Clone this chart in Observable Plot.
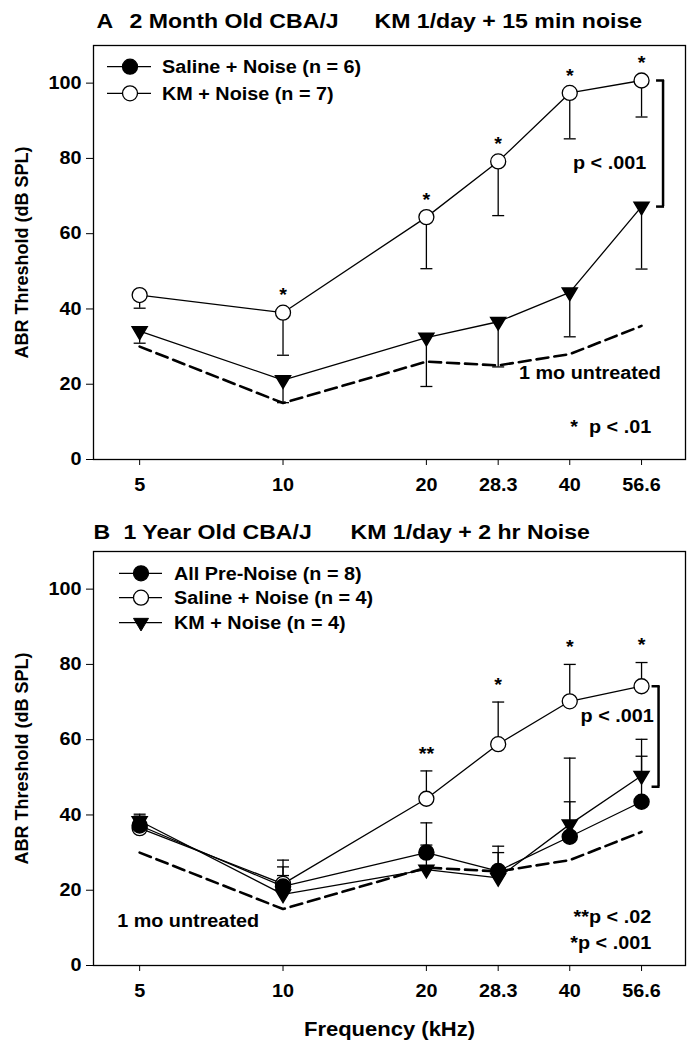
<!DOCTYPE html>
<html><head><meta charset="utf-8">
<script src="https://cdn.jsdelivr.net/npm/d3@7"></script>
<script src="https://cdn.jsdelivr.net/npm/@observablehq/plot@0.6"></script>
<style>
body{margin:0;background:#fff;}
#chart{width:698px;}
#chart svg{display:block;}
</style></head><body><div id="chart"></div>
<script>
// ---- data ----
const freqs = [5, 10, 20, 28.3, 40, 56.6];
const freqLabels = ["5", "10", "20", "28.3", "40", "56.6"];
const yTicks = [0, 20, 40, 60, 80, 100];
const untreated = [30, 15, 26, 25, 28, 35.5];

// Panel A: 2 month old
const aSalineMean = [34.1, 21.1, 32.4, 36.6, 44.4, 67.2];
const aSalineSD   = [3.2, 6, 13, 12, 11.8, 16.6];
const aKMMean     = [43.7, 39.0, 64.4, 79.2, 97.4, 100.7];
const aKMSD       = [3.5, 11.3, 13.7, 14.4, 12.2, 9.7];
const aStars      = ["", "*", "*", "*", "*", "*"];

// Panel B: 1 year old
const bPreMean    = [37.2, 21.0, 30.0, 25.1, 34.2, 43.5];
const bPreSD      = [2.5, 5.2, 7.9, 6.6, 9.3, 12.1];
const bSalineMean = [36.5, 21.7, 44.3, 58.8, 70.2, 74.2];
const bSalineSD   = [2.0, 6.3, 7.4, 11.2, 9.8, 6.3];
const bKMMean     = [38.4, 18.9, 25.5, 23.3, 37.5, 50.4];
const bKMSD       = [1.8, 5.0, 6.5, 6.7, 17.6, 9.7];
const bStars      = ["", "", "**", "*", "*", "*"];

// annotations (data-space anchors)
const aNotes = [
  {text: "p < .001", f: 48.5, v: 78.8, anchor: "middle"},
  {text: "1 mo untreated", f: 44.1, v: 23.0, anchor: "middle"},
  {text: "*  p < .01", f: 59.3, v: 8.7, anchor: "end"}
];
const bNotes = [
  {text: "p < .001", f: 50.3, v: 66.2, anchor: "middle"},
  {text: "1 mo untreated", f: 6.32, v: 11.8, anchor: "middle"},
  {text: "**p < .02", f: 59.3, v: 12.9, anchor: "end"},
  {text: "*p < .001", f: 59.3, v: 6.0, anchor: "end"}
];
const aLegend = [
  {label: "Saline + Noise (n = 6)", kind: "filled"},
  {label: "KM + Noise (n = 7)", kind: "open"}
];
const bLegend = [
  {label: "All Pre-Noise (n = 8)", kind: "filled"},
  {label: "Saline + Noise (n = 4)", kind: "open"},
  {label: "KM + Noise (n = 4)", kind: "tri"}
];

// ---- helpers ----
const FONT = "'Liberation Sans', Arial, Helvetica, sans-serif";
const STRETCH = 1.1;
const rows = (means, sds, dir) => freqs.map((f, i) => ({f, m: means[i], e: means[i] + dir * sds[i], i}));
const unt = freqs.map((f, i) => ({f, v: untreated[i]}));
const capSym = {draw(ctx, size) { const r = Math.sqrt(size / Math.PI); ctx.moveTo(-r, 0); ctx.lineTo(r, 0); }};
const tickLeftSym = {draw(ctx, size) { const r = Math.sqrt(size / Math.PI); ctx.moveTo(-r, 0); ctx.lineTo(0, 0); }};
const triDownSym = {draw(ctx, size) { const r = Math.sqrt(size / Math.PI); ctx.moveTo(-r, -0.58 * r); ctx.lineTo(r, -0.58 * r); ctx.lineTo(0, 1.1 * r); ctx.closePath(); }};

function errMarks(data) {
  return [
    Plot.ruleX(data, {x: "f", y1: "m", y2: "e", stroke: "black", strokeWidth: 1.3}),
    Plot.dot(data, {x: "f", y: "e", symbol: capSym, r: 6, stroke: "black", fill: "none", strokeWidth: 1.3})
  ];
}
function baseMarks() {
  return [
    Plot.frame({stroke: "black", strokeWidth: 1.3}),
    Plot.axisY({ticks: yTicks, tickSize: 7, tickPadding: 5, fontSize: 18, fontWeight: "bold", label: null, tickFormat: d => String(d)}),
    Plot.axisX({ticks: freqs, tickSize: 6, tickPadding: 13, fontSize: 18, fontWeight: "bold", label: null, tickFormat: d => freqLabels[freqs.indexOf(d)]}),
    Plot.text(["ABR Threshold (dB SPL)"], {text: d => d, frameAnchor: "left", textAnchor: "middle", dx: -71, rotate: -90, fontSize: 18, fontWeight: "bold"}),
    Plot.line(unt, {x: "f", y: "v", stroke: "black", strokeWidth: 2.6, strokeDasharray: "12,6"})
  ];
}
function noteMarks(notes) {
  return notes.map(n => Plot.text([n], {x: "f", y: "v", text: "text", textAnchor: n.anchor, fontSize: 18, fontWeight: "bold"}));
}
function titleMarks(parts, dy) {
  return parts.map(p => Plot.text([p.t], {text: d => d, frameAnchor: "top-left", dx: p.dx, dy, textAnchor: "start", lineAnchor: "middle", fontSize: 21, fontWeight: "bold"}));
}
function drawLegend(svg, items, lx0, lx1, mx, tx, ys) {
  const g = d3.select(svg).append("g").attr("font-family", FONT).attr("font-weight", "bold").attr("font-size", 18).attr("text-anchor", "start");
  items.forEach((it, k) => {
    const y = ys[k];
    g.append("line").attr("x1", lx0).attr("x2", lx1).attr("y1", y).attr("y2", y).attr("stroke", "black").attr("stroke-width", 1.3);
    if (it.kind === "tri") {
      g.append("path").attr("transform", `translate(${mx},${y})`).attr("d", d3.symbol(triDownSym, Math.PI * 7.5 * 7.5)()).attr("fill", "black").attr("stroke", "black");
    } else {
      g.append("circle").attr("cx", mx).attr("cy", y).attr("r", 7.5).attr("fill", it.kind === "filled" ? "black" : "white").attr("stroke", "black").attr("stroke-width", 1.3);
    }
    g.append("text").attr("x", tx).attr("y", y).attr("dy", "0.35em").text(it.label);
  });
}
const common = {
  width: 698, marginLeft: 93, marginRight: 13,
  x: {type: "log", domain: [4, 70]},
  y: {domain: [0, 110]},
  style: {fontFamily: FONT, fontWeight: "bold", color: "black", background: "white", overflow: "visible"}
};

// ---- Panel A ----
const A_sal = rows(aSalineMean, aSalineSD, -1);
const A_km = rows(aKMMean, aKMSD, -1);
const plotA = Plot.plot({
  ...common, height: 505, marginTop: 45, marginBottom: 46,
  marks: [
    ...baseMarks(),
    ...titleMarks([{t: "A", dx: 3}, {t: "2 Month Old CBA/J", dx: 36}, {t: "KM 1/day + 15 min noise", dx: 281}], -24),
    Plot.line(A_km, {x: "f", y: "m", stroke: "black", strokeWidth: 1.3}),
    Plot.line(A_sal, {x: "f", y: "m", stroke: "black", strokeWidth: 1.3}),
    ...errMarks(A_km),
    ...errMarks(A_sal),
    Plot.dot(A_km, {x: "f", y: "m", r: 7.5, fill: "white", stroke: "black", strokeWidth: 1.3}),
    Plot.dot(A_sal, {x: "f", y: "m", symbol: triDownSym, r: 7.5, fill: "black", stroke: "black"}),
    Plot.text(A_km, {x: "f", y: "m", text: d => aStars[d.i], dy: -17, fontSize: 18, fontWeight: "bold"}),
    Plot.ruleX([A_km[5]], {x: "f", y1: "m", y2: () => A_sal[5].m, dx: 21.5, stroke: "black", strokeWidth: 2.5}),
    Plot.dot([A_km[5], A_sal[5]], {x: "f", y: "m", symbol: tickLeftSym, r: 8, dx: 22.5, stroke: "black", fill: "none", strokeWidth: 2.5}),
    ...noteMarks(aNotes)
  ]
});
drawLegend(plotA, aLegend, 107, 151, 130, 162, [66.7, 93.3]);

// ---- Panel B ----
const B_pre = rows(bPreMean, bPreSD, 1);
const B_sal = rows(bSalineMean, bSalineSD, 1);
const B_km = rows(bKMMean, bKMSD, 1);
const plotB = Plot.plot({
  ...common, height: 545, marginTop: 46, marginBottom: 85,
  marks: [
    ...baseMarks(),
    ...titleMarks([{t: "B", dx: 0}, {t: "1 Year Old CBA/J", dx: 30}, {t: "KM 1/day + 2 hr Noise", dx: 257}], -19),
    Plot.text(["Frequency (kHz)"], {text: d => d, frameAnchor: "bottom", dy: 70, fontSize: 20, fontWeight: "bold"}),
    Plot.line(B_pre, {x: "f", y: "m", stroke: "black", strokeWidth: 1.3}),
    Plot.line(B_sal, {x: "f", y: "m", stroke: "black", strokeWidth: 1.3}),
    Plot.line(B_km, {x: "f", y: "m", stroke: "black", strokeWidth: 1.3}),
    ...errMarks(B_sal),
    ...errMarks(B_km),
    ...errMarks(B_pre),
    Plot.dot(B_sal, {x: "f", y: "m", r: 7.5, fill: "white", stroke: "black", strokeWidth: 1.3}),
    Plot.dot(B_km, {x: "f", y: "m", symbol: triDownSym, r: 7.5, fill: "black", stroke: "black"}),
    Plot.dot(B_pre, {x: "f", y: "m", r: 7.5, fill: "black", stroke: "black"}),
    Plot.text(B_sal, {x: "f", y: "e", text: d => bStars[d.i], dy: -17, fontSize: 18, fontWeight: "bold"}),
    Plot.ruleX([B_sal[5]], {x: "f", y1: "m", y2: () => 47.5, dx: 17, stroke: "black", strokeWidth: 2.5}),
    Plot.dot([{f: 56.6, m: B_sal[5].m}, {f: 56.6, m: 47.5}], {x: "f", y: "m", symbol: tickLeftSym, r: 8, dx: 18, stroke: "black", fill: "none", strokeWidth: 2.5}),
    ...noteMarks(bNotes)
  ]
});
drawLegend(plotB, bLegend, 119, 162, 141, 174, [68.3, 92.7, 117.7]);

document.getElementById("chart").append(plotA, plotB);

// the reference lettering is slightly wide: stretch horizontal text a little
for (const svg of [plotA, plotB]) {
  svg.querySelectorAll("text").forEach(t => {
    const tr = t.getAttribute("transform") || "";
    if (tr.includes("rotate")) return;
    if (!t.textContent.trim()) return;
    const len = t.getComputedTextLength();
    if (len > 0) {
      t.setAttribute("textLength", (len * STRETCH).toFixed(2));
      t.setAttribute("lengthAdjust", "spacingAndGlyphs");
    }
  });
}
</script></body></html>
